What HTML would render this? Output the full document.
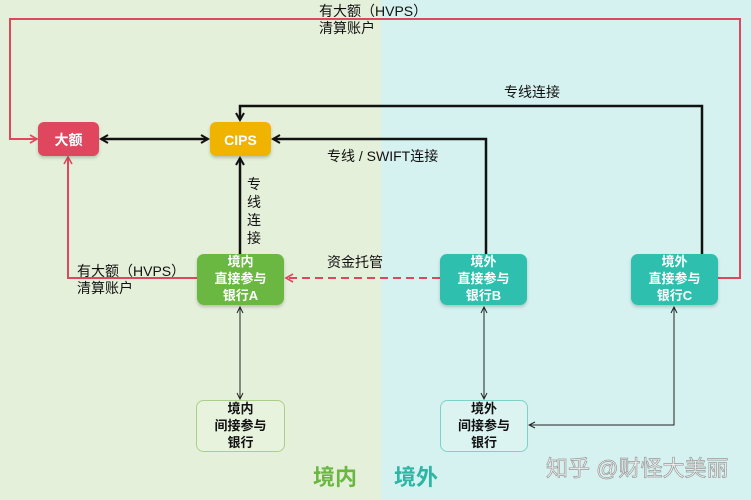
<!DOCTYPE html>
<html><head><meta charset="utf-8"><style>
html,body{margin:0;padding:0;width:751px;height:500px;overflow:hidden;}
svg{display:block;}
text{font-family:"Liberation Sans","Noto Sans CJK SC",sans-serif;}
</style></head><body>
<svg width="751" height="500" viewBox="0 0 751 500" xmlns="http://www.w3.org/2000/svg">
<defs>
<marker id="ab" markerWidth="10" markerHeight="10" refX="8" refY="5" orient="auto-start-reverse" markerUnits="userSpaceOnUse"><path d="M1,1 L8,5 L1,9" fill="none" stroke="#111" stroke-width="2"/></marker>
<marker id="at" markerWidth="8" markerHeight="8" refX="7" refY="4" orient="auto-start-reverse" markerUnits="userSpaceOnUse"><path d="M1,1 L7,4 L1,7" fill="none" stroke="#222" stroke-width="1"/></marker>
<marker id="ar" markerWidth="10" markerHeight="10" refX="8" refY="5" orient="auto-start-reverse" markerUnits="userSpaceOnUse"><path d="M1,1 L8,5 L1,9" fill="none" stroke="#e0475e" stroke-width="1.6"/></marker>
<filter id="sh" x="-20%" y="-20%" width="140%" height="150%"><feDropShadow dx="0" dy="2" stdDeviation="1.5" flood-opacity="0.2"/></filter>
</defs>
<rect x="0" y="0" width="381" height="500" fill="#e5f0da"/>
<rect x="381" y="0" width="370" height="500" fill="#d5f2f0"/>

<path d="M717,278 H740 V19 H10 V139 H37" fill="none" stroke="#e0475e" stroke-width="2" marker-end="url(#ar)"/>
<path d="M197,278 H68 V157" fill="none" stroke="#e0475e" stroke-width="2" marker-end="url(#ar)"/>
<path d="M440,278 H286" fill="none" stroke="#e0475e" stroke-width="2" stroke-dasharray="8,5" marker-end="url(#ar)"/>

<path d="M101,139 H208" fill="none" stroke="#111" stroke-width="2.5" marker-start="url(#ab)" marker-end="url(#ab)"/>
<path d="M702,254 V106 H240 V120" fill="none" stroke="#111" stroke-width="2.5" marker-end="url(#ab)"/>
<path d="M486,254 V139 H273" fill="none" stroke="#111" stroke-width="2.5" marker-end="url(#ab)"/>
<path d="M240,254 V158" fill="none" stroke="#111" stroke-width="2.5" marker-end="url(#ab)"/>

<path d="M240,307 V399" fill="none" stroke="#222" stroke-width="1" marker-start="url(#at)" marker-end="url(#at)"/>
<path d="M484,307 V399" fill="none" stroke="#222" stroke-width="1" marker-start="url(#at)" marker-end="url(#at)"/>
<path d="M674,307 V425 H529" fill="none" stroke="#222" stroke-width="1" marker-start="url(#at)" marker-end="url(#at)"/>

<rect x="38" y="122" width="61" height="34" rx="6" fill="#e0475e" filter="url(#sh)"/>
<text x="68.5" y="145" text-anchor="middle" font-size="14" font-weight="bold" fill="#fff">大额</text>
<rect x="210" y="122" width="61" height="34" rx="6" fill="#f0b400" filter="url(#sh)"/>
<text x="240.5" y="145" text-anchor="middle" font-size="14" font-weight="bold" fill="#fff">CIPS</text>

<g font-size="13" font-weight="bold" fill="#fff" text-anchor="middle">
<rect x="197" y="254" width="87" height="51" rx="7" fill="#6ab842" filter="url(#sh)"/>
<text x="240.5" y="266">境内</text><text x="240.5" y="283">直接参与</text><text x="240.5" y="300">银行A</text>
<rect x="440" y="254" width="87" height="51" rx="7" fill="#2fbfae" filter="url(#sh)"/>
<text x="483.5" y="266">境外</text><text x="483.5" y="283">直接参与</text><text x="483.5" y="300">银行B</text>
<rect x="631" y="254" width="87" height="51" rx="7" fill="#2fbfae" filter="url(#sh)"/>
<text x="674.5" y="266">境外</text><text x="674.5" y="283">直接参与</text><text x="674.5" y="300">银行C</text>
</g>
<g font-size="13" font-weight="bold" fill="#111" text-anchor="middle">
<rect x="196.5" y="400.5" width="88" height="51" rx="7" fill="#e8f3de" stroke="#a8d08a"/>
<text x="240.5" y="413">境内</text><text x="240.5" y="430">间接参与</text><text x="240.5" y="447">银行</text>
<rect x="440.5" y="400.5" width="87" height="51" rx="7" fill="#dbf4f2" stroke="#7fd0c6"/>
<text x="484" y="413">境外</text><text x="484" y="430">间接参与</text><text x="484" y="447">银行</text>
</g>

<g font-size="14" fill="#111">
<text x="319" y="16">有大额（HVPS）</text>
<text x="319" y="33">清算账户</text>
<text x="504" y="97">专线连接</text>
<text x="327" y="161">专线 / SWIFT连接</text>
<text x="247" y="189">专</text><text x="247" y="207">线</text><text x="247" y="225">连</text><text x="247" y="243">接</text>
<text x="327" y="267">资金托管</text>
<text x="77" y="276">有大额（HVPS）</text>
<text x="77" y="293">清算账户</text>
</g>
<text x="313" y="485" font-size="22" font-weight="bold" fill="#6ab842">境内</text>
<text x="394" y="485" font-size="22" font-weight="bold" fill="#2fb5a5">境外</text>
<text x="546" y="476" font-size="22" fill="#f2f2f2" stroke="#999" stroke-width="0.7">知乎 @财怪大美丽</text>
</svg>
</body></html>
